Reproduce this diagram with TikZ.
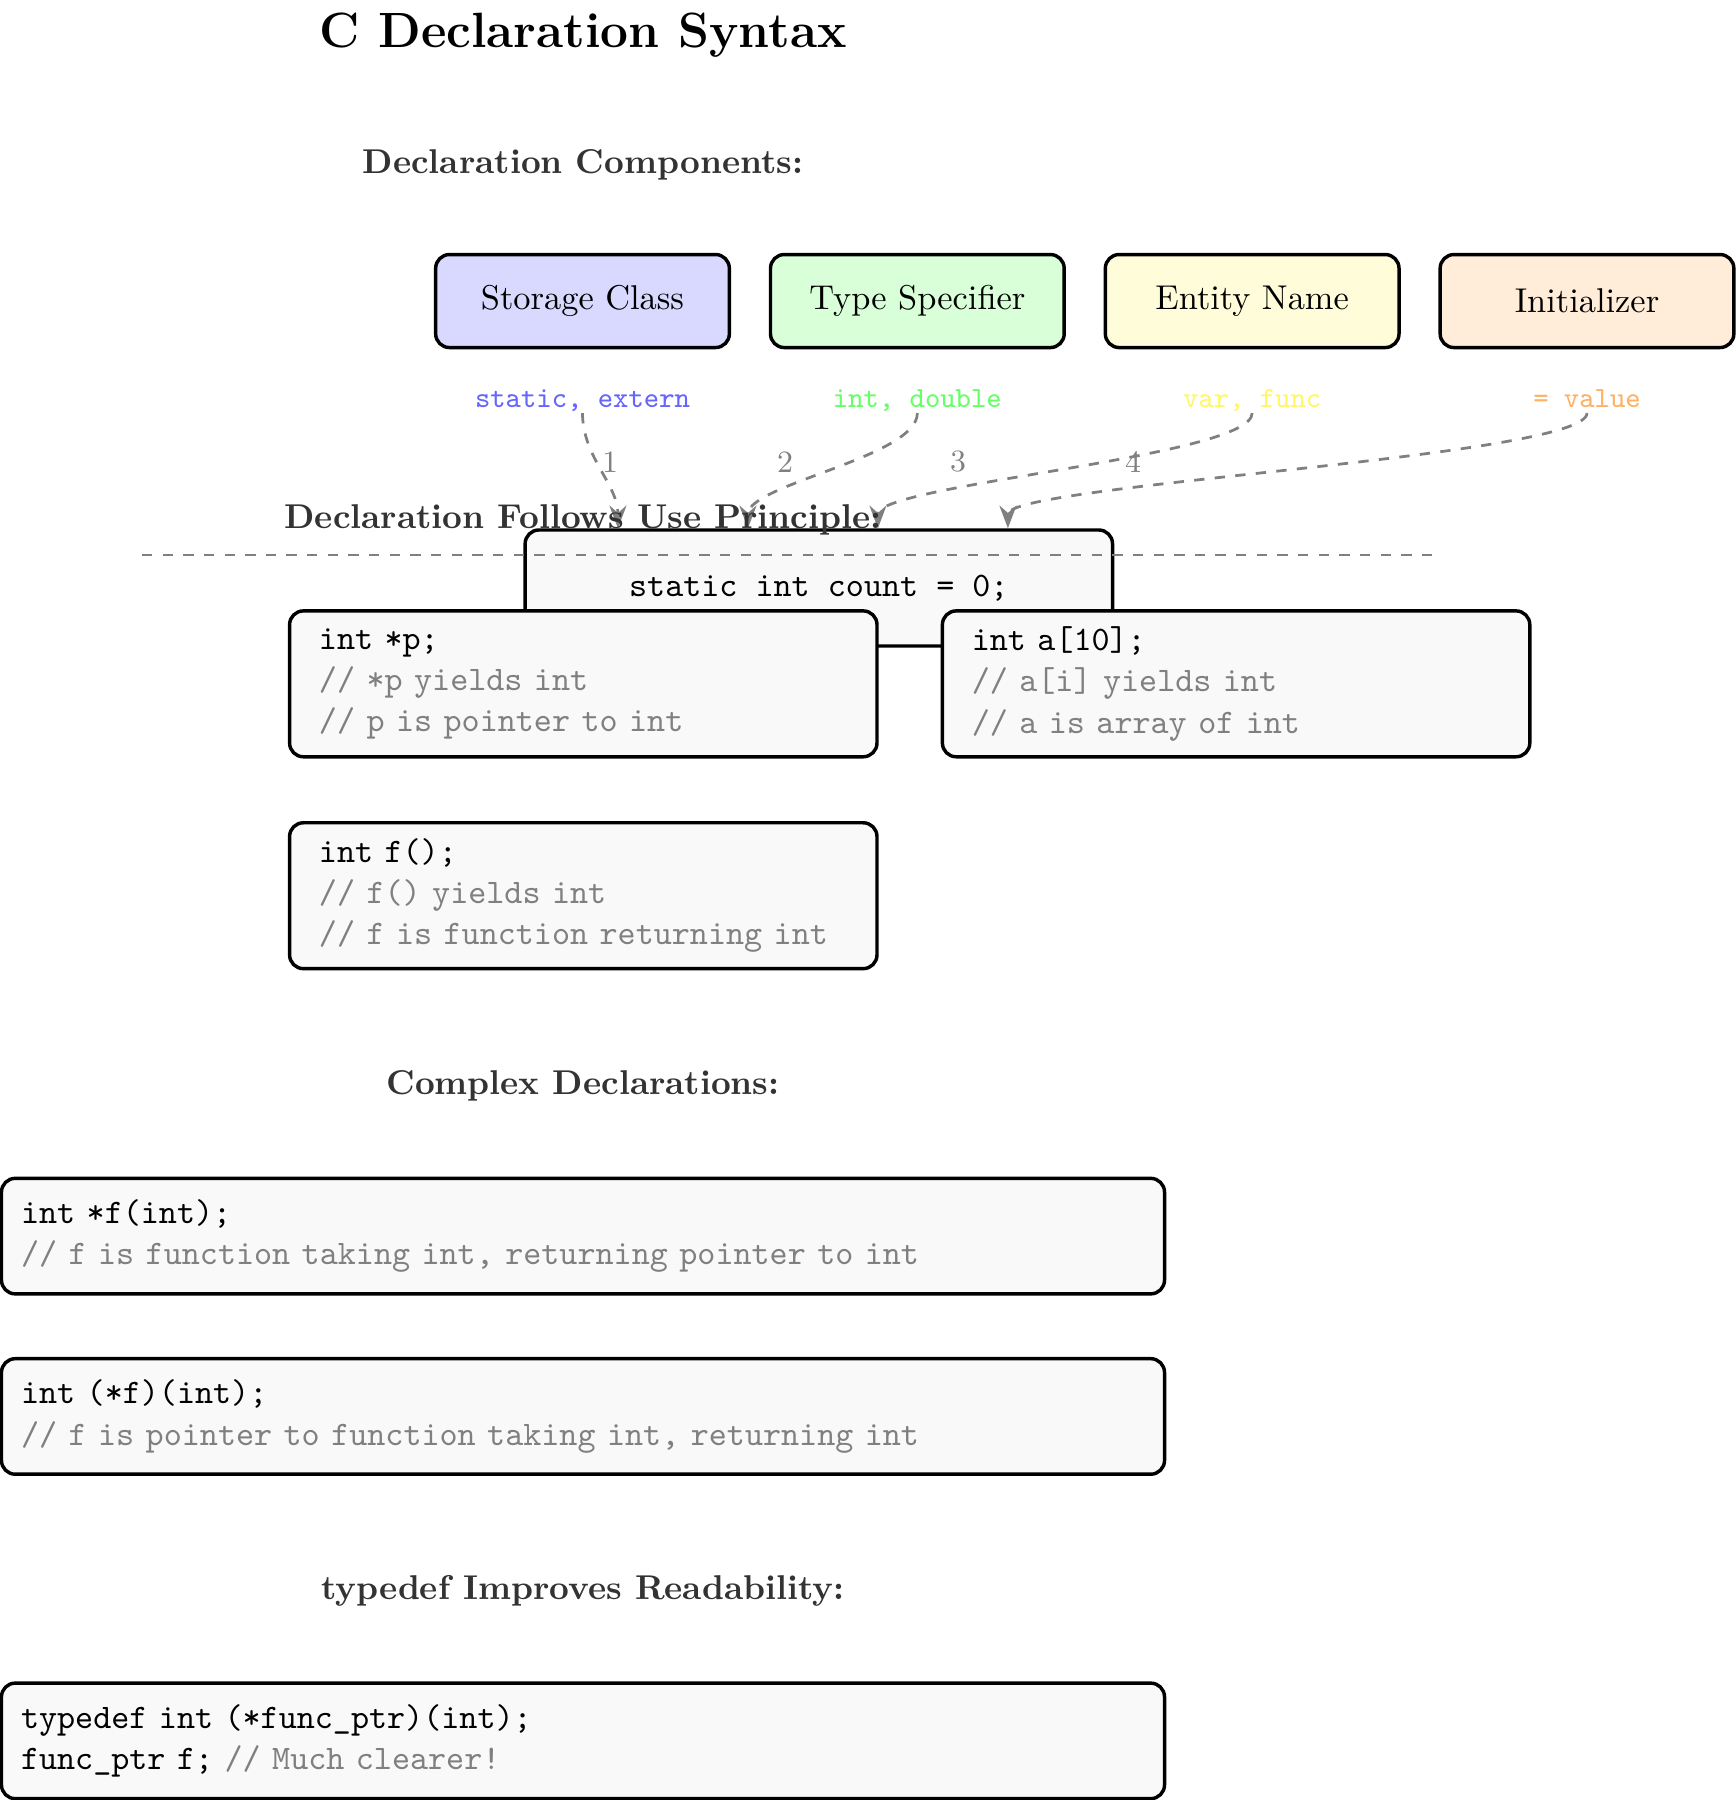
\documentclass[tikz,border=0pt]{standalone}
\usepackage{xcolor}
\usepackage{tikz}
\usetikzlibrary{positioning}
\usetikzlibrary{arrows.meta}
\usetikzlibrary{calc}
\definecolor{codebg}{gray}{0.975}
\definecolor{headgray}{gray}{0.2}
\newcommand{\codecmt}[1]{\textcolor{gray}{#1}}

\tikzset{
  part/.style={draw, line width=1pt, rounded corners, minimum width=3cm, minimum height=0.95cm, inner sep=0pt},
  hint/.style={font=\fontsize{8.5pt}{10pt}\selectfont\ttfamily, inner sep=0pt, text height=1.6ex, text depth=0.3ex},
  heading/.style={font=\bfseries, text=headgray},
  codebox/.style={draw, line width=1pt, rounded corners, fill=codebg, font=\ttfamily, align=left,
    inner xsep=0.3cm, text width=5.4cm, minimum height=1.49cm},
  widebox/.style={codebox, inner xsep=0.2cm, text width=11.48cm, minimum height=1.18cm},
  usearrow/.style={gray, thick, dashed, -Stealth},
  stepnum/.style={text=gray, font=\small}
}

\begin{document}
\begin{tikzpicture}
    \useasboundingbox (0,0) rectangle (17.722,-18.386);

    % title and headings
    \node[font=\Large\bfseries] (title) at (5.955,-0.36) {C Declaration Syntax};
    \node[heading] (hcomp) at (5.955,-1.68) {Declaration Components:};

    % declaration parts
    \node[part, fill=blue!15] (storage) at (5.95,-3.075) {Storage Class};
    \node[part, fill=green!15, right=0.385cm of storage] (type) {Type Specifier};
    \node[part, fill=yellow!15, right=0.385cm of type] (entity) {Entity Name};
    \node[part, fill=orange!15, right=0.385cm of entity] (init) {Initializer};

    \node[hint, text=blue!60, below=0.35cm of storage] (lstorage) {static, extern};
    \node[hint, text=green!60, below=0.35cm of type] (ltype) {int, double};
    \node[hint, text=yellow!60, below=0.35cm of entity] (lentity) {var, func};
    \node[hint, text=orange!60, below=0.35cm of init] (linit) {= value};

    % assembled declaration
    \node[draw, line width=1pt, rounded corners, fill=codebg, minimum width=6cm, minimum height=1.185cm,
      font=\ttfamily] (decl) at (8.364,-6.006) {static int count = 0;};
    \coordinate (t1) at ($(decl.north west)!0.16!(decl.north east)$);
    \coordinate (t2) at ($(decl.north west)!0.38!(decl.north east)$);
    \coordinate (t3) at ($(decl.north west)!0.60!(decl.north east)$);
    \coordinate (t4) at ($(decl.north west)!0.82!(decl.north east)$);

    \draw[usearrow] (lstorage.south) .. controls +(0,-0.45) and +(0,0.45) .. (t1);
    \draw[usearrow] (ltype.south) .. controls +(0,-0.45) and +(0,0.45) .. (t2);
    \draw[usearrow] (lentity.south) .. controls +(0,-0.45) and +(0,0.45) .. (t3);
    \draw[usearrow] (linit.south) .. controls +(0,-0.45) and +(0,0.45) .. (t4);

    \node[stepnum] (n1) at (6.231,-4.719) {1};
    \node[stepnum] (n2) at (8.018,-4.719) {2};
    \node[stepnum] (n3) at (9.785,-4.719) {3};
    \node[stepnum] (n4) at (11.573,-4.719) {4};

    % declaration follows use
    \node[heading] (hprin) at (5.955,-5.315) {Declaration Follows Use Principle:};
    \draw[gray, dashed] (1.45,-5.669) -- (14.73,-5.669);

    \node[codebox] (ptr) at (5.958,-6.985) {int *p;\\ \codecmt{// *p yields int}\\ \codecmt{// p is pointer to int}};
    \node[codebox] (arr) at (12.626,-6.985) {int a[10];\\ \codecmt{// a[i] yields int}\\ \codecmt{// a is array of int}};
    \node[codebox] (fun) at (5.958,-9.149) {int f();\\ \codecmt{// f() yields int}\\ \codecmt{// f is function returning int}};

    % complex declarations
    \node[heading] (hcplx) at (5.955,-11.095) {Complex Declarations:};
    \node[widebox] (retptr) at (5.955,-12.626) {int *f(int);\\ \codecmt{// f is function taking int, returning pointer to int}};
    \node[widebox] (fnptr) at (5.955,-14.468) {int (*f)(int);\\ \codecmt{// f is pointer to function taking int, returning int}};

    % typedef
    \node[heading] (htdef) at (5.955,-16.245) {typedef Improves Readability:};
    \node[widebox] (tdef) at (5.955,-17.782) {typedef int (*func\_ptr)(int);\\ func\_ptr f; \codecmt{// Much clearer!}};
\end{tikzpicture}
\end{document}
